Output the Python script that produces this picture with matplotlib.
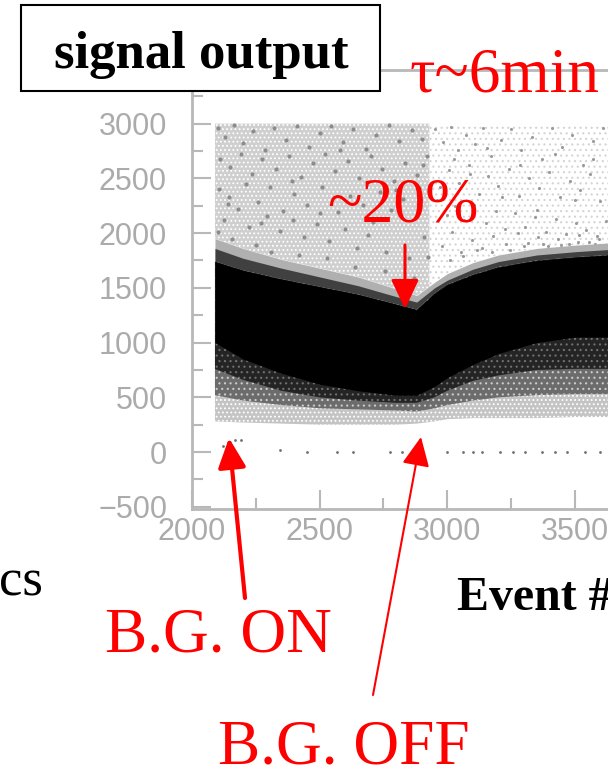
import matplotlib
matplotlib.use('Agg')
import matplotlib.pyplot as plt
from matplotlib.patches import FancyArrowPatch, Rectangle
from matplotlib.ticker import MultipleLocator

# envelopes of the point cloud
event = [2090, 2200, 2350, 2500, 2650, 2800, 2880, 2950, 3000, 3100, 3200, 3350, 3500, 3630]
halo_top = [1950, 1860, 1760, 1680, 1600, 1490, 1430, 1550, 1630, 1730, 1800, 1860, 1890, 1910]
fringe_top = [1860, 1770, 1680, 1600, 1520, 1420, 1370, 1500, 1570, 1670, 1740, 1800, 1830, 1850]
core_top = [1740, 1660, 1580, 1510, 1440, 1350, 1300, 1450, 1530, 1620, 1690, 1750, 1780, 1800]
core_bottom = [1000, 850, 720, 620, 560, 520, 520, 600, 680, 800, 900, 1000, 1050, 1050]
dark_bottom = [760, 660, 560, 500, 470, 450, 450, 500, 560, 650, 700, 750, 760, 760]
mid_bottom = [520, 470, 430, 400, 390, 380, 370, 400, 430, 470, 500, 520, 530, 530]
edge_bottom = [280, 270, 260, 250, 250, 250, 260, 280, 300, 310, 310, 310, 320, 320]

cloud_event = [2090, 2200, 2350, 2500, 2650, 2800, 2880, 2930]
cloud_bottom = [1950, 1860, 1760, 1680, 1600, 1490, 1430, 1510]
cloud_top = [3000, 3000, 3000, 3000, 3000, 3000, 3000, 3000]

thin_event = [2930, 2950, 3000, 3100, 3200, 3350, 3500, 3630]
thin_bottom = [1510, 1550, 1630, 1730, 1800, 1860, 1890, 1910]
thin_top = [3000, 3000, 3000, 3000, 3000, 3000, 3000, 3000]

# single points near zero
zero_event = [2120, 2170, 2190, 2345, 2450, 2567, 2630, 2775, 2822, 3000, 3063, 3102, 3137,
              3207, 3258, 3305, 3371, 3422, 3469, 3540, 3598]
zero_value = [60, 110, 110, 20, 0, 0, 0, 0, 0, 0, 0, 0, 0, 0, 0, 0, 0, 0, 0, 0, 0]

# darker clumps in the dense part of the cloud
clump_event = [2100, 2130, 2165, 2200, 2240, 2285, 2320, 2370, 2410, 2460, 2500, 2545, 2590,
               2630, 2680, 2720, 2770, 2810, 2860, 2900, 2110, 2150, 2190, 2235, 2275, 2330,
               2380, 2425, 2475, 2520, 2560, 2610, 2655, 2700, 2745, 2790, 2835, 2880, 2920,
               2105, 2145, 2210, 2260, 2305, 2355, 2400, 2450, 2510, 2570, 2620, 2670, 2735,
               2780, 2825, 2890, 2125, 2180, 2225, 2295, 2345, 2395, 2440, 2490, 2535, 2600,
               2645, 2690, 2760, 2850, 2910, 2100, 2155, 2250, 2310, 2420, 2530, 2640, 2755,
               2870, 2925, 2140, 2270, 2390, 2500, 2580, 2710, 2800, 2905]
clump_value = [2960, 2880, 2990, 2820, 2930, 2760, 2960, 2850, 2980, 2790, 2910, 2980, 2830,
               2950, 2770, 2900, 2990, 2840, 2940, 2860, 2680, 2600, 2720, 2540, 2680, 2590,
               2700, 2510, 2640, 2720, 2570, 2660, 2500, 2700, 2590, 2480, 2640, 2530, 2700,
               2400, 2330, 2450, 2280, 2420, 2200, 2360, 2260, 2420, 2190, 2340, 2260, 2380,
               2210, 2310, 2410, 2120, 2220, 2060, 2160, 2020, 2120, 1960, 2080, 1930, 2040,
               1860, 1980, 1830, 1770, 1960, 2010, 1950, 1890, 1830, 1800, 1770, 1690, 1650,
               1590, 1780, 2270, 2090, 2480, 2180, 2760, 2100, 2390, 2620]

# single points in the sparse part after the beam went off
sparse_event = [2950, 2985, 3015, 3040, 3075, 3110, 3140, 3170, 3210, 3250, 3290, 3330, 3370,
                3410, 3450, 3490, 3530, 3570, 3610, 2970, 3005, 3045, 3085, 3125, 3160, 3200,
                3240, 3280, 3320, 3360, 3400, 3440, 3480, 3520, 3560, 3600, 2960, 3000, 3030,
                3065, 3105, 3150, 3190, 3225, 3265, 3305, 3345, 3385, 3425, 3465, 3505, 3545,
                3585, 3620, 2980, 3020, 3055, 3095, 3135, 3180, 3230, 3275, 3315, 3355, 3395,
                3435, 3475, 3515, 3555, 3595, 3010, 3060, 3115, 3175, 3245, 3300, 3375, 3445,
                3510, 3580, 3025, 3090, 3155, 3215, 3285, 3350, 3420, 3500, 3570]
sparse_value = [2950, 2830, 2970, 2760, 2900, 2810, 2960, 2700, 2850, 2950, 2760, 2880, 2680,
                2960, 2790, 2900, 2620, 2840, 2960, 2420, 2580, 2460, 2620, 2360, 2520, 2430,
                2590, 2340, 2500, 2410, 2560, 2330, 2480, 2390, 2540, 2290, 2300, 2170, 2250,
                2120, 2260, 2090, 2200, 2040, 2180, 2060, 2150, 2010, 2130, 1990, 2090, 2030,
                1970, 2110, 1880, 2010, 1830, 1940, 1860, 1970, 1900, 2000, 1910, 1960, 1880,
                1950, 1900, 1980, 1920, 1950, 1750, 1790, 1850, 1830, 1850, 1880, 1900, 1890,
                1920, 1900, 2680, 2540, 2780, 2330, 2620, 2210, 2720, 2300, 2680]

y_ticks = [-500, 0, 500, 1000, 1500, 2000, 2500, 3000]
x_ticks = [2000, 2500, 3000, 3500]

plt.rcParams['font.family'] = ['Liberation Sans', 'DejaVu Sans']
plt.rcParams['hatch.linewidth'] = 0.8
axis_color = '#b8b8b8'
serif = ['Liberation Serif', 'DejaVu Serif']

fig = plt.figure(figsize=(6.08, 7.69), dpi=100)
ax = fig.add_axes([192 / 608, 1 - 509 / 769, 416 / 608, (509 - 70) / 769])
ax.set_xlim(2000, 2000 + 416 / 0.2553)
ax.set_ylim(-520, 3490)

# cloud layers, outermost first, each one overlaps the next
ax.fill_between(thin_event, thin_bottom, thin_top, facecolor='white', edgecolor='#d4d4d4', hatch='...', lw=0)
ax.fill_between(cloud_event, cloud_bottom, cloud_top, facecolor='#cfcfcf', edgecolor='white', hatch='....', lw=0)
ax.scatter(clump_event, clump_value, s=9, color='#8c8c8c', lw=0)
ax.scatter(sparse_event, sparse_value, s=5, color='#9a9a9a', lw=0)
ax.fill_between(event, core_top, halo_top, color='#b0b0b0', lw=0)
ax.fill_between(event, core_top, fringe_top, color='#404040', lw=0)
ax.fill_between(event, edge_bottom, core_top, facecolor='#c4c4c4', edgecolor='white', hatch='....', lw=0)
ax.fill_between(event, mid_bottom, core_top, facecolor='#6c6c6c', edgecolor='#cccccc', hatch='...', lw=0)
ax.fill_between(event, dark_bottom, core_top, facecolor='#242424', edgecolor='#707070', hatch='...', lw=0)
ax.fill_between(event, core_bottom, core_top, color='black', lw=0)
ax.scatter(zero_event, zero_value, s=4, color='#707070', lw=0)

for side in ['top', 'bottom', 'left']:
    ax.spines[side].set_color(axis_color)
    ax.spines[side].set_linewidth(2)
ax.spines['right'].set_visible(False)
ax.set_xticks(x_ticks)
ax.set_yticks(y_ticks)
ax.xaxis.set_minor_locator(MultipleLocator(250))
ax.yaxis.set_minor_locator(MultipleLocator(250))
ax.tick_params(which='major', direction='in', length=14, width=1.5, color=axis_color,
               labelcolor='#ababab', labelsize=22)
ax.tick_params(which='minor', direction='in', length=8, width=1.5, color=axis_color)
ax.tick_params(axis='y', pad=18)
ax.tick_params(axis='x', pad=6)

# annotations, placed in picture pixels
over = fig.add_axes([0, 0, 1, 1])
over.set_xlim(0, 608)
over.set_ylim(769, 0)
over.axis('off')
over.patch.set_alpha(0)

over.add_patch(Rectangle((21, 5), 359, 86, facecolor='white', edgecolor='black', lw=1.5))
over.text(201, 68, 'signal output', family=serif, weight='bold', fontsize=38, ha='center', color='black')
over.text(410, 92, 'τ~6min', family=serif, fontsize=45.5, color='red')
over.text(327, 222, '~20%', family=serif, fontsize=46, color='red')
over.text(-1, 595, 'cs', family=serif, fontsize=38, color='black')
over.text(457, 610, 'Event #', family=serif, weight='bold', fontsize=34.5, color='black', clip_on=True)
over.text(105, 652, 'B.G. ON', family=serif, fontsize=45.5, color='red')
over.text(218, 764, 'B.G. OFF', family=serif, fontsize=45.5, color='red')

arrows = [((245, 598), (229, 438), 3.0), ((373, 695), (421, 437), 1.5), ((405, 245), (405, 309), 2.2)]
for start, tip, width in arrows:
    over.add_patch(FancyArrowPatch(start, tip, arrowstyle='-|>,head_length=1.8,head_width=0.85',
                                   mutation_scale=10, color='red', lw=width,
                                   shrinkA=0, shrinkB=0))

fig.savefig('out.png', dpi=100)
